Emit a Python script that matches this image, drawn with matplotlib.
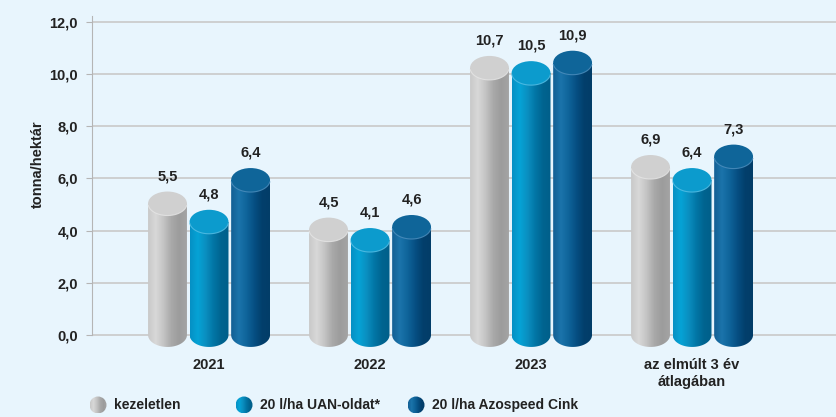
import numpy as np
import matplotlib
matplotlib.use("Agg")
import matplotlib.pyplot as plt
from matplotlib.patches import Ellipse, PathPatch, Circle
from matplotlib.path import Path
from matplotlib.colors import LinearSegmentedColormap

categories = ["2021", "2022", "2023", "az elmúlt 3 év\nátlagában"]
series_names = ["kezeletlen", "20 l/ha UAN-oldat*", "20 l/ha Azospeed Cink"]
kezeletlen = [5.5, 4.5, 10.7, 6.9]
uan = [4.8, 4.1, 10.5, 6.4]
azospeed = [6.4, 4.6, 10.9, 7.3]
yticks = [0, 2, 4, 6, 8, 10, 12]
ytick_labels = ["0,0", "2,0", "4,0", "6,0", "8,0", "10,0", "12,0"]
ylabel = "tonna/hektár"

series = [kezeletlen, uan, azospeed]
grads = [
    ["#c9c9c9", "#d8d8d8", "#c4c4c4", "#a9a9a9", "#9c9c9c", "#a4a4a4"],
    ["#0590c4", "#05a3d6", "#0a8fc0", "#0276a6", "#006490", "#005f8a"],
    ["#135f94", "#1b74ab", "#0f649a", "#064f83", "#023f6c", "#033d68"],
]
tops = ["#d0d0d0", "#0c9bcd", "#0f6599"]
top_edge = ["#e6e6e6", "#59c0e6", "#4f90bf"]

BG = "#e8f5fd"
FONT = ["Liberation Sans Narrow", "Liberation Sans", "DejaVu Sans"]
plt.rcParams["font.family"] = FONT

fig = plt.figure(figsize=(8.36, 4.17), dpi=100)
fig.patch.set_facecolor(BG)
ax = fig.add_axes([92 / 836, (417 - 350.6) / 417, 744 / 836, (350.6 - 15.5) / 417])
ax.set_facecolor(BG)
ymin, ymax = -0.6, 12.25
ax.set_ylim(ymin, ymax)
ax.set_xlim(-0.727, 3.894)

for s in ["top", "right", "bottom"]:
    ax.spines[s].set_visible(False)
ax.spines["left"].set_color("#b5b5b5")
ax.spines["left"].set_bounds(0, ymax)
ax.set_yticks(yticks)
ax.set_yticklabels(ytick_labels, fontsize=10.5, fontweight="bold", color="#222222")
ax.tick_params(axis="y", length=4, color="#b5b5b5", pad=6)
for t in yticks:
    ax.axhline(t, color="#c9c9c9", lw=1.2, zorder=0.5)

ax.set_xticks(range(len(categories)))
ax.set_xticklabels(categories, fontsize=10.5, fontweight="bold", color="#222222", linespacing=1.35)
ax.tick_params(axis="x", length=0, pad=5)

ax.set_ylabel(ylabel, fontsize=10.5, fontweight="bold", color="#222222")
ax.yaxis.set_label_coords(-0.064, 0.557)

bw = 0.2415
off = 0.258
eh = 0.92  # ellipse height in data units

def cylinder(xc, v, k):
    x0, x1 = xc - bw / 2, xc + bw / 2
    ytop = v - eh / 2
    th = np.linspace(np.pi, 2 * np.pi, 60)
    bx = xc + (bw / 2) * np.cos(th)
    by = 0 + (eh / 2) * np.sin(th)
    verts = [(x0, ytop)] + list(zip(bx, by)) + [(x1, ytop), (x0, ytop)]
    codes = [Path.MOVETO] + [Path.LINETO] * (len(verts) - 2) + [Path.CLOSEPOLY]
    body = PathPatch(Path(verts, codes), facecolor="none", edgecolor="none", zorder=2)
    ax.add_patch(body)
    cmap = LinearSegmentedColormap.from_list("g%d" % k, grads[k])
    grad = np.linspace(0, 1, 200).reshape(1, -1)
    im = ax.imshow(grad, cmap=cmap, extent=[x0, x1, -eh, ytop], aspect="auto",
                   zorder=2, interpolation="bilinear")
    im.set_clip_path(body)
    ax.add_patch(Ellipse((xc, ytop), bw, eh, facecolor=tops[k], edgecolor="none", zorder=3))
    th2 = np.linspace(np.pi * 1.05, np.pi * 1.95, 50)
    ax.plot(xc + (bw / 2) * np.cos(th2), ytop + (eh / 2) * np.sin(th2),
            color=top_edge[k], lw=0.8, zorder=3.5, alpha=0.8)
    ax.annotate(f"{v:.1f}".replace(".", ","), (xc, v), xytext=(0, 6),
                textcoords="offset points", ha="center", va="bottom",
                fontsize=10.5, fontweight="bold", color="#222222", zorder=5)

for k, vals in enumerate(series):
    for i, v in enumerate(vals):
        cylinder(i + (k - 1) * off, v, k)

ax.set_xlim(-0.727, 3.894)
ax.set_ylim(ymin, ymax)

lax = fig.add_axes([0, 0, 1, 1])
lax.set_xlim(0, 836)
lax.set_ylim(417, 0)
lax.axis("off")
lax.patch.set_alpha(0)
leg_x = [98, 244, 416]
for k, name in enumerate(series_names):
    cx, cy, r = leg_x[k], 405, 8.5
    circ = Circle((cx, cy), r, facecolor="none", edgecolor="none")
    lax.add_patch(circ)
    cmap = LinearSegmentedColormap.from_list("l%d" % k, grads[k])
    im = lax.imshow(np.linspace(0, 1, 100).reshape(1, -1), cmap=cmap,
                    extent=[cx - r, cx + r, cy + r, cy - r], aspect="auto")
    im.set_clip_path(circ)
    lax.text(cx + 16, cy, name, ha="left", va="center", fontsize=10,
             fontweight="bold", color="#222222")

fig.savefig("out.png", dpi=100, facecolor=BG)
